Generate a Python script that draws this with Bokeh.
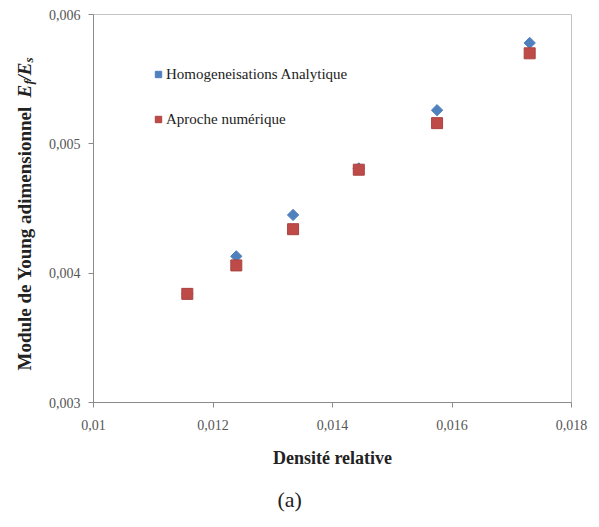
import math
from bokeh.plotting import figure
from bokeh.layouts import row
from bokeh.models import Range1d, FixedTicker, Legend, LegendItem, Title
from bokeh.core.properties import value
from bokeh.embed import file_html
from bokeh.resources import INLINE

# ---- data ----
density = [0.01157, 0.01239, 0.01334, 0.01444, 0.01575, 0.01730]
analytique = [0.00384, 0.00413, 0.00445, 0.00481, 0.00526, 0.00578]
numerique = [0.00384, 0.00406, 0.00434, 0.00480, 0.00516, 0.00570]

x_ticks = [0.010, 0.012, 0.014, 0.016, 0.018]
x_tick_labels = ["0,01", "0,012", "0,014", "0,016", "0,018"]
y_ticks = [0.003, 0.004, 0.005, 0.006]
y_tick_labels = ["0,003", "0,004", "0,005", "0,006"]

name_analytique = "Homogeneisations Analytique"
name_numerique = "Aproche numérique"
x_title = "Densité relative"
y_title = "Module de Young  adimensionnel "
caption = "(a)"

SERIF = "Liberation Serif"
W, H = 599, 527
LW = 40                       # width of the strip holding the rotated y title
TOP, BOTTOM = 14, 125         # borders shared by both panels

# ---- rotated y title strip (pixel coordinates, y measured from page bottom) ----
yl = figure(width=LW, height=H, output_backend="svg", toolbar_location=None,
            x_range=Range1d(0, LW), y_range=Range1d(BOTTOM, H - TOP),
            min_border=0, min_border_left=0, min_border_right=0,
            min_border_top=TOP, min_border_bottom=BOTTOM)
yl.axis.visible = False
yl.grid.visible = False
yl.outline_line_color = None
yl.background_fill_color = "white"
yl.border_fill_color = "white"
rot = math.pi / 2
yl.text(x=[24], y=[157], text=[y_title], angle=rot, text_align="left",
        text_baseline="middle", text_font=value(SERIF), text_font_size="19px",
        text_font_style="bold", text_color="#222222")
yl.text(x=[24, 24], y=[430, 447], text=["E", "/E"], angle=rot, text_align="left",
        text_baseline="middle", text_font=value(SERIF), text_font_size="19px",
        text_font_style="bold italic", text_color="#222222")
yl.text(x=[28, 28], y=[443, 465], text=["f", "s"], angle=rot, text_align="left",
        text_baseline="middle", text_font=value(SERIF), text_font_size="13px",
        text_font_style="bold italic", text_color="#222222")

# ---- main chart ----
p = figure(width=W - LW, height=H, output_backend="svg", toolbar_location=None,
           x_range=Range1d(0.010, 0.018), y_range=Range1d(0.003, 0.006),
           min_border_left=93 - LW, min_border_right=28, min_border_top=TOP,
           min_border_bottom=BOTTOM)
p.xgrid.visible = False
p.ygrid.visible = False
p.outline_line_color = "#c4c4c4"
p.outline_line_width = 1
p.background_fill_color = "white"
p.border_fill_color = "white"

for ax, ticks, labels in ((p.xaxis[0], x_ticks, x_tick_labels), (p.yaxis[0], y_ticks, y_tick_labels)):
    ax.ticker = FixedTicker(ticks=ticks)
    ax.major_label_overrides = {t: l for t, l in zip(ticks, labels)}
    ax.minor_tick_line_color = None
    ax.major_tick_in = 0
    ax.major_tick_out = 5
    ax.axis_line_color = "#8a8a8a"
    ax.major_tick_line_color = "#8a8a8a"
    ax.major_label_text_font = SERIF
    ax.major_label_text_font_size = "14px"
    ax.major_label_text_color = "#555555"

p.xaxis.major_label_standoff = 12
p.yaxis.major_label_standoff = 8
p.xaxis.axis_label = x_title
p.xaxis.axis_label_text_font = SERIF
p.xaxis.axis_label_text_font_size = "18px"
p.xaxis.axis_label_text_font_style = "bold"
p.xaxis.axis_label_text_color = "#222222"
p.xaxis.axis_label_standoff = 15

r1 = p.scatter(density, analytique, marker="square", angle=math.pi / 4, size=8,
               fill_color="#4F81BD", line_color="#4F81BD")
r2 = p.scatter(density, numerique, marker="square", size=11,
               fill_color="#BE4B48", line_color="#A94341")

legend = Legend(items=[LegendItem(label=name_analytique, renderers=[r1]),
                       LegendItem(label=name_numerique, renderers=[r2])],
                location=(57, 273), orientation="vertical",
                border_line_color=None, background_fill_alpha=0,
                padding=0, margin=0, spacing=25,
                label_height=20, glyph_height=20, glyph_width=16,
                label_standoff=0,
                label_text_font=SERIF, label_text_font_size="15px",
                label_text_color="#222222")
p.add_layout(legend, "center")

p.add_layout(Title(text=caption, align="left", offset=184, standoff=28,
                   text_font=SERIF, text_font_size="22px",
                   text_font_style="normal", text_color="#222222"), "below")

open("out.html", "w").write(file_html(row(yl, p, spacing=0), INLINE))
